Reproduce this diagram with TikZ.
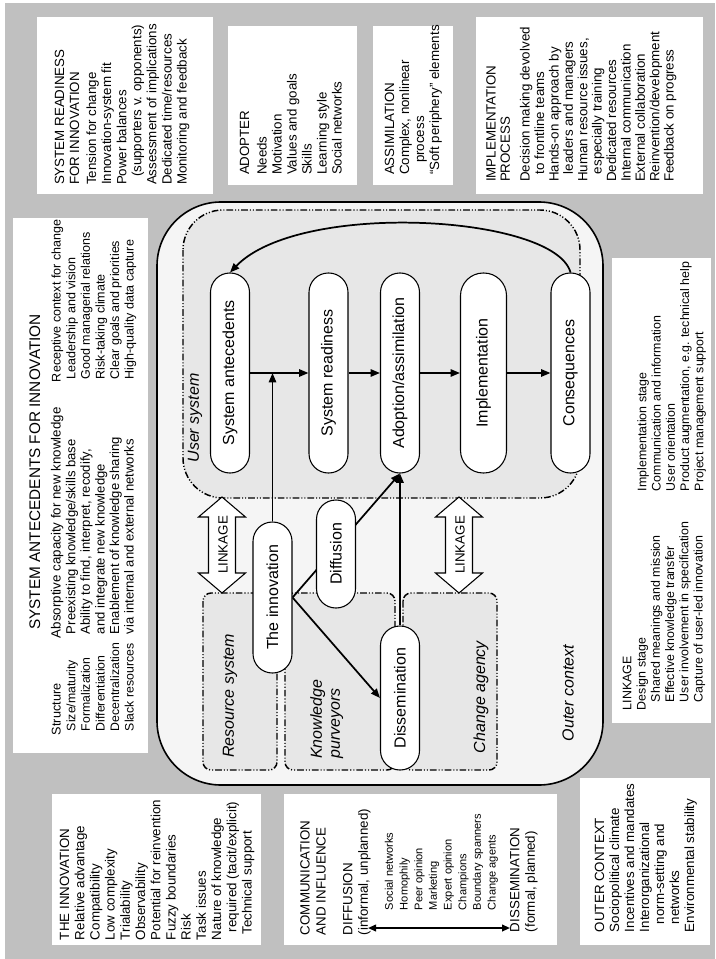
\documentclass[tikz,border=0pt]{standalone}
\usepackage{fontspec}
\setmainfont{Liberation Sans}
\usetikzlibrary{arrows.meta}
\pgfdeclarelayer{back}
\pgfdeclarelayer{mid}
\pgfsetlayers{back,mid,main}
\definecolor{bggray}{RGB}{192,192,192}
\definecolor{outerfill}{RGB}{245,245,245}
\definecolor{userfill}{RGB}{231,231,231}
\newcommand{\vblock}[1]{\rotatebox{90}{\begin{tabular}{@{}l@{}}#1\end{tabular}}}
\newcommand{\ind}{\hspace*{6pt}}
\newcommand{\subl}[1]{\hspace*{3pt}{\fontsize{9.2}{10.9}\selectfont #1}}
\newcommand{\subm}[1]{\hspace*{3pt}{\fontsize{9.8}{10.9}\selectfont #1}}
\newcommand{\subr}[1]{\hspace*{2pt}{\fontsize{9.4}{10.9}\selectfont #1}}
\begin{document}
\begin{tikzpicture}[x=0.75pt,y=-0.75pt,
  txt/.style={anchor=south west, inner sep=0pt, outer sep=0pt, font=\fontsize{10}{11.25}\selectfont},
  smalltxt/.style={txt, font=\fontsize{9.3}{10.7}\selectfont},
  lbl/.style={inner sep=0pt, font=\fontsize{12}{13.5}\selectfont\itshape},
  pill/.style={draw, line width=0.8pt, fill=white, rounded corners=14.5pt, minimum width=29.25pt, inner sep=0pt, font=\fontsize{12}{14}\selectfont},
  dashdot/.style={line width=1.1pt, dash pattern=on 5pt off 1.5pt on 0.8pt off 1.5pt on 0.8pt off 1.5pt},
  arr/.style={line width=1.3pt, -{Triangle[length=7pt,width=5.5pt]}},
  darr/.style={line width=1.3pt, {Triangle[length=6pt,width=5pt]}-{Triangle[length=6pt,width=5pt]}},
  hollow/.style={draw, line width=0.8pt, fill=white}
]
\useasboundingbox (0,0) rectangle (715,959);
\begin{pgfonlayer}{back}
\fill[white] (0,0) rectangle (715,959);
\fill[bggray] (5,3) rectangle (715,959);
\fill[white] (37,17) rectangle (213,194);
\fill[white] (228,26) rectangle (357,185);
\fill[white] (373,26) rectangle (453,185);
\fill[white] (476,17) rectangle (703,194);
\fill[white] (13,218) rectangle (148,753);
\fill[white] (612,258) rectangle (711,723);
\fill[white] (52,794) rectangle (261,945);
\fill[white] (284,794) rectangle (557,945);
\fill[white] (580,778) rectangle (710,945);
\draw[line width=1.2pt, fill=outerfill, rounded corners=48pt] (157,202) rectangle (603,785);
\draw[dashdot, fill=userfill, rounded corners=30pt] (183,210) rectangle (580,498);
\draw[dashdot, fill=userfill, rounded corners=6pt] (203,593) rectangle (277,770);
\draw[dashdot, fill=userfill, rounded corners=6pt] (285,593) rectangle (395,770);
\draw[dashdot, fill=userfill, rounded corners=6pt] (403,593) rectangle (497,770);
\end{pgfonlayer}

% linkage arrows
\draw[hollow] (222,497) -- (245.5,517) -- (235.5,517) -- (235.5,573) -- (245.5,573) -- (222,593) -- (198.5,573) -- (208.5,573) -- (208.5,517) -- (198.5,517) -- cycle;
\draw[hollow] (459,497) -- (482.5,517) -- (472.5,517) -- (472.5,573) -- (482.5,573) -- (459,593) -- (435.5,573) -- (445.5,573) -- (445.5,517) -- (435.5,517) -- cycle;
\node[inner sep=0pt, font=\fontsize{10}{12}\selectfont] (lk1) at (223,545) {\rotatebox{90}{LINKAGE}};
\node[inner sep=0pt, font=\fontsize{10}{12}\selectfont] (lk2) at (460,545) {\rotatebox{90}{LINKAGE}};

% pills
\node[pill, minimum height=150pt] (sa) at (230,373) {\rotatebox{90}{System antecedents}};
\node[pill, minimum height=150pt] (sr) at (328.5,373) {\rotatebox{90}{System readiness}};
\node[pill, minimum height=150pt] (ad) at (400,373) {\rotatebox{90}{Adoption/assimilation}};
\node[pill, minimum height=150pt, minimum width=34.5pt, rounded corners=17pt] (im) at (483.5,373) {\rotatebox{90}{Implementation}};
\node[pill, minimum height=150pt] (co) at (570.5,373) {\rotatebox{90}{Consequences}};
\node[pill, minimum height=113.25pt] (inn) at (272.5,597.5) {\rotatebox{90}{The innovation}};
\node[pill, minimum height=81pt] (dif) at (336,554) {\rotatebox{90}{Diffusion}};
\node[pill, minimum height=108pt] (dis) at (400,698) {\rotatebox{90}{Dissemination}};

% region labels
\node[lbl] (us) at (195,418) {\rotatebox{90}{User system}};
\node[lbl] (oc) at (568,693) {\rotatebox{90}{Outer context}};
\node[lbl] (rs) at (230,696) {\rotatebox{90}{Resource system}};
\node[lbl] (ca) at (481,697) {\rotatebox{90}{Change agency}};
\node[lbl, anchor=south west] (kp) at (309,759) {\rotatebox{90}{\begin{tabular}{@{}l@{}}Knowledge\\purveyors\end{tabular}}};

% text blocks
\node[txt, font=\fontsize{10}{11.3}\selectfont] (srtext) at (53.5,185) {\vblock{SYSTEM READINESS\\FOR INNOVATION\\[1.5pt]Tension for change\\Innovation-system fit\\Power balances\\\ind(supporters v. opponents)\\Assessment of implications\\Dedicated time/resources\\Monitoring and feedback}};
\node[txt] (adtext) at (238.5,175) {\vblock{ADOPTER\\[2pt]Needs\\Motivation\\Values and goals\\Skills\\Learning style\\Social networks}};
\node[txt] (astext) at (383.5,175) {\vblock{ASSIMILATION\\Complex, nonlinear\\\hspace*{9pt}process\\``Soft periphery'' elements}};
\node[txt, font=\fontsize{10}{10.8}\selectfont] (iptext) at (485.5,182) {\vblock{IMPLEMENTATION\\PROCESS\\[4pt]Decision making devolved\\\ind to frontline teams\\Hands-on approach by\\\ind leaders and managers\\Human resource issues,\\\ind especially training\\Dedicated resources\\Internal communication\\External collaboration\\Reinvention/development\\Feedback on progress}};

\node[txt, anchor=west, font=\fontsize{11.5}{13}\selectfont] (sattl) at (28,472) {\vblock{SYSTEM ANTECEDENTS FOR INNOVATION}};
\node[txt, font=\fontsize{9.5}{10.95}\selectfont] (stc) at (50.5,735) {\vblock{Structure\\\subl{Size/maturity}\\\subl{Formalization}\\\subl{Differentiation}\\\subl{Decentralization}\\\subl{Slack resources}}};
\node[txt, font=\fontsize{10}{10.95}\selectfont] (abs) at (50.5,638) {\vblock{Absorptive capacity for new knowledge\\\subm{Preexisting knowledge/skills base}\\\subm{Ability to find, interpret, recodify,}\\\subm{and integrate new knowledge}\\\subm{Enablement of knowledge sharing}\\\subm{via internal and external networks}}};
\node[txt, font=\fontsize{9.4}{10.95}\selectfont] (rec) at (50.5,382) {\vblock{Receptive context for change\\\subr{Leadership and vision}\\\subr{Good managerial relations}\\\subr{Risk-taking climate}\\\subr{Clear goals and priorities}\\\subr{High-quality data capture}}};

\node[smalltxt] (lktext) at (621.3,710) {\vblock{LINKAGE\\Design stage\\\ind Shared meanings and mission\\\ind Effective knowledge transfer\\\ind User involvement in specification\\\ind Capture of user-led innovation}};
\node[smalltxt] (istext) at (636.3,491) {\vblock{Implementation stage\\Communication and information\\User orientation\\Product augmentation, e.g. technical help\\Project management support}};

\node[txt, font=\fontsize{10}{11.4}\selectfont] (intext) at (58.5,940) {\vblock{THE INNOVATION\\Relative advantage\\Compatibility\\Low complexity\\Trialability\\Observability\\Potential for reinvention\\Fuzzy boundaries\\Risk\\Task issues\\Nature of knowledge\\\ind required (tacit/explicit)\\\hspace*{4pt}Technical support}};
\node[txt] (octext) at (593.5,932) {\vblock{OUTER CONTEXT\\Sociopolitical climate\\Incentives and mandates\\Interorganizational\\\ind norm-setting and\\\ind networks\\Environmental stability}};

\node[txt, font=\fontsize{10}{12}\selectfont] (cma) at (298.5,935) {\vblock{COMMUNICATION\\AND INFLUENCE}};
\node[txt, font=\fontsize{10}{11.6}\selectfont] (cmb) at (341.5,935) {\vblock{DIFFUSION\\(informal, unplanned)}};
\node[txt, font=\fontsize{8.3}{11}\selectfont] (cmc) at (382.7,910) {\vblock{Social networks\\Homophily\\Peer opinion\\Marketing\\Expert opinion\\Champions\\Boundary spanners\\Change agents}};
\node[txt, font=\fontsize{10}{11.6}\selectfont] (cmd) at (508.5,932) {\vblock{DISSEMINATION\\(formal, planned)}};
\coordinate (dl) at (368,928);
\coordinate (dr) at (510,928);

\begin{pgfonlayer}{mid}
\draw[arr] (sa) -- (sr);
\draw[arr] (sr) -- (ad);
\draw[arr] (ad) -- (im);
\draw[arr] (im) -- (co);
\draw[arr] (inn.north) -- (inn.north |- sa.east);
\draw[arr] (inn.east) -- (ad.south);
\draw[arr] (inn.east) -- (dis.west);
\draw[arr] (dis.north) -- (ad.south);
\draw[arr] (co.north) .. controls (555,215) and (300,200) .. (sa.north);
\draw[darr] (dl) -- (dr);
\end{pgfonlayer}
\end{tikzpicture}
\end{document}
